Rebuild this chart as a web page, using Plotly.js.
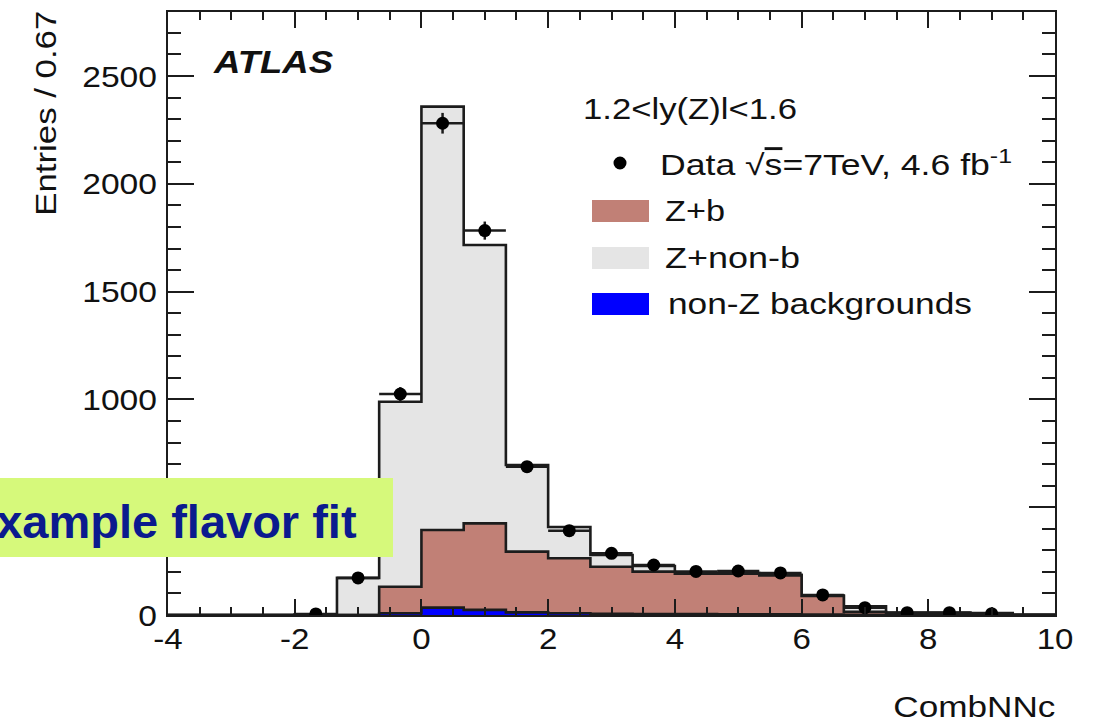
<!DOCTYPE html>
<html>
<head>
<meta charset="utf-8">
<script src="https://cdn.plot.ly/plotly-3.0.1.min.js"></script>
<style>
  html, body { margin: 0; padding: 0; background: #ffffff; }
  #plot { width: 1099px; height: 724px; }
</style>
</head>
<body>
<div id="plot"></div>
<script>
// CombNNc template fit, 1.2 < |y(Z)| < 1.6, bins of width 0.67
const binEdges = [-4, -3.333, -2.667, -2, -1.333, -0.667, 0, 0.667, 1.333, 2, 2.667,
                  3.333, 4, 4.667, 5.333, 6, 6.667, 7.333, 8, 8.667, 9.333, 10];

// stacked templates (entries per bin)
const nonZBackgrounds = [0, 0, 0, 0, 0, 8, 34, 24, 12, 8, 5, 4, 4, 3, 3, 2, 1, 0, 0, 0, 0];
const zPlusB          = [0, 0, 0, 0, 0, 123, 360, 401, 282, 255, 219, 197, 187, 188, 181, 86, 14, 2, 0, 0, 0];
const zPlusNonB       = [0, 0, 0, 3, 172, 858, 1964, 1291, 402, 145, 54, 26, 4, 4, 3, 2, 25, 9, 11, 9, 2];

// data and its statistical uncertainty
const dataCounts = [null, null, null, 5, 172, 1025, 2281, 1783, 688, 391, 286, 232, 202, 204, 195, 93, 34, 11, 11, 6, null];
const dataErrors = [0, 0, 0, 2, 13, 32, 48, 42, 26, 20, 17, 15, 14, 14, 14, 10, 6, 3, 3, 2, 0];

const xTickVals = [-4, -2, 0, 2, 4, 6, 8, 10];
const xTickText = ['-4', '-2', '0', '2', '4', '6', '8', '10'];
const yTickVals = [0, 500, 1000, 1500, 2000, 2500];
// the 500 label sits under the caption box
const yTickText = ['0', '', '1000', '1500', '2000', '2500'];

const legendHeader = '1.2<ly(Z)l<1.6';
const legendLabels = ['Data \u221a<span style="text-decoration:overline">s</span>=7TeV, 4.6 fb<sup>-1</sup>',
                      'Z+b', 'Z+non-b', 'non-Z backgrounds'];

// running sums for the stack
function addArrays(a, b) { return a.map((v, i) => v + b[i]); }
const stackBkg = nonZBackgrounds.slice();
const stackZb = addArrays(stackBkg, zPlusB);
const stackAll = addArrays(stackZb, zPlusNonB);

// step outline: one point per left edge, last value repeated at the right edge
function stepY(vals) { return vals.concat([vals[vals.length - 1]]); }
const centers = binEdges.slice(0, -1).map((e, i) => (e + binEdges[i + 1]) / 2);
const halfWidths = binEdges.slice(0, -1).map((e, i) => (binEdges[i + 1] - e) / 2);

const FONT = 'Liberation Sans, Arial, Helvetica, sans-serif';
const INK = '#1c1c1c';

function histTrace(vals, fill, name) {
  return {
    type: 'scatter', mode: 'lines', name: name,
    x: binEdges, y: stepY(vals),
    line: { shape: 'hv', color: INK, width: 2.6 },
    fill: 'tozeroy', fillcolor: fill,
    hoverinfo: 'skip'
  };
}

const traces = [
  histTrace(stackAll, '#e5e5e5', 'Z+non-b'),
  histTrace(stackZb, '#c18076', 'Z+b'),
  histTrace(stackBkg, '#0000ff', 'non-Z backgrounds'),
  {
    type: 'scatter', mode: 'markers', name: 'Data',
    x: centers, y: dataCounts,
    marker: { color: '#000000', size: 13 },
    error_x: { type: 'data', array: halfWidths, color: INK, thickness: 2.5, width: 0 },
    error_y: { type: 'data', array: dataErrors, color: INK, thickness: 2.5, width: 0 }
  }
];

// page-pixel helpers for the decorations (plot area spans x 168..1055, y 12..615)
const L = 168, R = 1055, T = 12, B = 615;
const px = x => (x - L) / (R - L);
const py = y => (B - y) / (B - T);

// each label: text, position, options, and the run length its lettering is set to (0 = natural)
function label(text, x, y, opts) {
  return Object.assign({
    xref: 'paper', yref: 'paper', x: px(x), y: py(y), text: text,
    showarrow: false, xanchor: 'left', yanchor: 'middle', align: 'left',
    font: { family: FONT, size: 29, color: '#111111' }
  }, opts || {});
}

const annotations = [
  label('<b><i>ATLAS</i></b>', 211, 62, { font: { family: FONT, size: 32, color: '#111111' } }),
  label(legendHeader, 581, 109),
  label(legendLabels[0], 658, 163),
  label(legendLabels[1], 663, 211),
  label(legendLabels[2], 663, 258),
  label(legendLabels[3], 666, 304),
  label('Entries / 0.67', 45, 9, { textangle: -90, xanchor: 'center', yanchor: 'top', align: 'right',
                                   font: { family: FONT, size: 30, color: '#111111' } }),
  label('CombNNc', 1057, 706, { xanchor: 'right', align: 'right', font: { family: FONT, size: 30, color: '#111111' } }),
  label('<b>example flavor fit</b>', 359, 521,
        { xanchor: 'right', align: 'right', font: { family: FONT, size: 47, color: '#0b1a8e' } })
];
const labelRunLength = [119, 214, 352, 60, 135, 304, 205, 162, 0];

const shapes = [
  // legend swatches
  { type: 'circle', xref: 'paper', yref: 'paper', x0: px(613.5), x1: px(626.5), y0: py(169.5), y1: py(156.5),
    fillcolor: '#000000', line: { width: 0 } },
  { type: 'rect', xref: 'paper', yref: 'paper', x0: px(592), x1: px(649), y0: py(222), y1: py(200),
    fillcolor: '#c18076', line: { width: 0 } },
  { type: 'rect', xref: 'paper', yref: 'paper', x0: px(592), x1: px(649), y0: py(269), y1: py(247),
    fillcolor: '#e5e5e5', line: { width: 0 } },
  { type: 'rect', xref: 'paper', yref: 'paper', x0: px(592), x1: px(649), y0: py(315), y1: py(293),
    fillcolor: '#0000ff', line: { width: 0 } },
  // highlighted caption box
  { type: 'rect', xref: 'paper', yref: 'paper', layer: 'above', x0: px(-20), x1: px(393), y0: py(557), y1: py(478),
    fillcolor: '#d6f97b', line: { width: 0 } }
];

const axisCommon = {
  showline: true, linecolor: INK, linewidth: 2, mirror: 'ticks',
  ticks: 'inside', tickwidth: 2, tickcolor: INK,
  showgrid: false, zeroline: false, fixedrange: true,
  tickfont: { family: FONT, size: 30, color: '#111111' }
};

const layout = {
  width: 1099, height: 724,
  margin: { l: L, r: 1099 - R, t: T, b: 724 - B },
  paper_bgcolor: '#ffffff', plot_bgcolor: '#ffffff',
  showlegend: false,
  xaxis: Object.assign({}, axisCommon, {
    range: [-4, 10], tickmode: 'array', tickvals: xTickVals, ticktext: xTickText,
    ticklen: 16, ticklabelstandoff: -4,
    minor: { dtick: 0.5, ticks: 'inside', ticklen: 8, tickwidth: 2, tickcolor: INK, showgrid: false }
  }),
  yaxis: Object.assign({}, axisCommon, {
    range: [0, 2797], tickmode: 'array', tickvals: yTickVals, ticktext: yTickText,
    ticklen: 26, ticklabelstandoff: 3,
    minor: { dtick: 100, ticks: 'inside', ticklen: 13, tickwidth: 2, tickcolor: INK, showgrid: false }
  }),
  shapes: shapes,
  annotations: annotations
};

// the lettering of this figure runs wide: stretch each run to its set length
function setRun(el, length) {
  if (!el || !(length > 0)) return;
  el.setAttribute('textLength', length.toFixed(1));
  el.setAttribute('lengthAdjust', 'spacingAndGlyphs');
}
function widen(el, factor) {
  const w = el.getComputedTextLength();
  if (w > 0) setRun(el, w * factor);
}

Plotly.newPlot('plot', traces, layout, { displayModeBar: false, staticPlot: true }).then(gd => {
  gd.querySelectorAll('.ytick text').forEach(t => widen(t, 1.12));
  gd.querySelectorAll('.xtick text').forEach(t => widen(t, 1.1));
  gd.querySelectorAll('g.annotation').forEach(g => {
    const i = +g.getAttribute('data-index');
    setRun(g.querySelector('text.annotation-text'), labelRunLength[i]);
  });
});
</script>
</body>
</html>
